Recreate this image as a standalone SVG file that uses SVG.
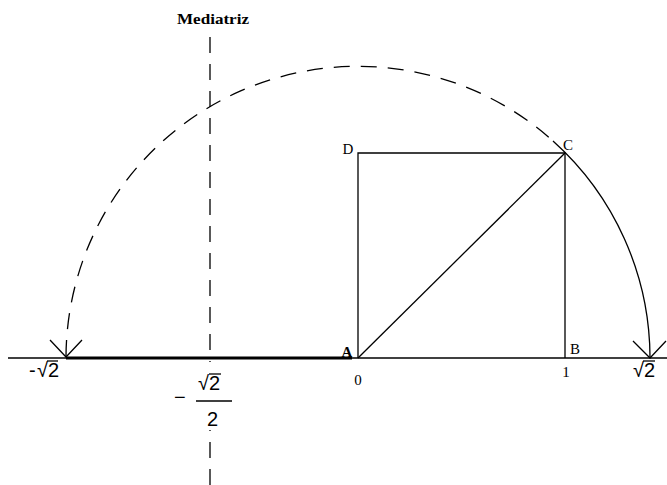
<svg xmlns="http://www.w3.org/2000/svg" width="667" height="485" viewBox="0 0 667 485">
<style>
.ln{stroke:#000;stroke-width:1.3;fill:none}
.dash{stroke:#000;stroke-width:1.3;fill:none;stroke-dasharray:16 11}
.lbl{font-family:"Liberation Serif",serif;font-size:15px;fill:#000}
.math{font-family:"Liberation Sans",Arial,sans-serif;font-size:20px;fill:#000}
.num{font-family:"Liberation Serif",serif;font-size:15px;fill:#000}
</style>
<rect width="667" height="485" fill="#fff"/>
<g id="connectors">
<line class="ln" x1="8" y1="358" x2="667" y2="358"/>
<line x1="66" y1="358" x2="352" y2="358" stroke="#000" stroke-width="3"/>
<line class="dash" x1="210" y1="37" x2="210" y2="485" stroke-dasharray="15 9"/>
<path class="dash" d="M 66 356 A 292 292 0 0 1 553 141"/>
<path class="ln" d="M 553 141 A 292 292 0 0 1 650 357"/>
<line class="ln" x1="358" y1="358" x2="565" y2="153"/>
<path class="ln" d="M 50 340 L 66 357 L 82 340"/>
<path class="ln" d="M 633 341 L 650 358 L 666 341"/>
</g>
<g id="square">
<polyline class="ln" points="358,358 358,153 565,153 565,358"/>
</g>
<g id="mediatriz"><text class="lbl" x="213" y="24" text-anchor="middle" font-weight="bold" font-size="13" textLength="72" lengthAdjust="spacingAndGlyphs">Mediatriz</text></g>
<g id="A"><text class="lbl" x="347" y="357" text-anchor="middle" font-weight="bold">A</text></g>
<g id="B"><text class="lbl" x="575" y="354" text-anchor="middle">B</text></g>
<g id="C"><text class="lbl" x="568" y="150" text-anchor="middle">C</text></g>
<g id="D"><text class="lbl" x="348" y="154" text-anchor="middle">D</text></g>
<g id="zero"><text class="num" x="358" y="385" text-anchor="middle">0</text></g>
<g id="one"><text class="num" x="566" y="377" text-anchor="middle">1</text></g>
<g id="negsqrt2">
<text class="math" x="29" y="377">-</text>
<text class="math" x="37" y="377">√2</text>
<line class="ln" x1="47" y1="361" x2="58" y2="361"/>
</g>
<g id="negsqrt2over2">
<rect x="172" y="362" width="64" height="68" fill="#fff"/>
<text class="math" x="174" y="404">−</text>
<text class="math" x="198" y="390">√2</text>
<line class="ln" x1="209" y1="374" x2="221" y2="374"/>
<line class="ln" x1="196" y1="401" x2="232" y2="401"/>
<text class="math" x="207" y="426">2</text>
</g>
<g id="sqrt2">
<text class="math" x="633" y="377">√2</text>
<line class="ln" x1="643" y1="361" x2="655" y2="361"/>
</g>
</svg>
